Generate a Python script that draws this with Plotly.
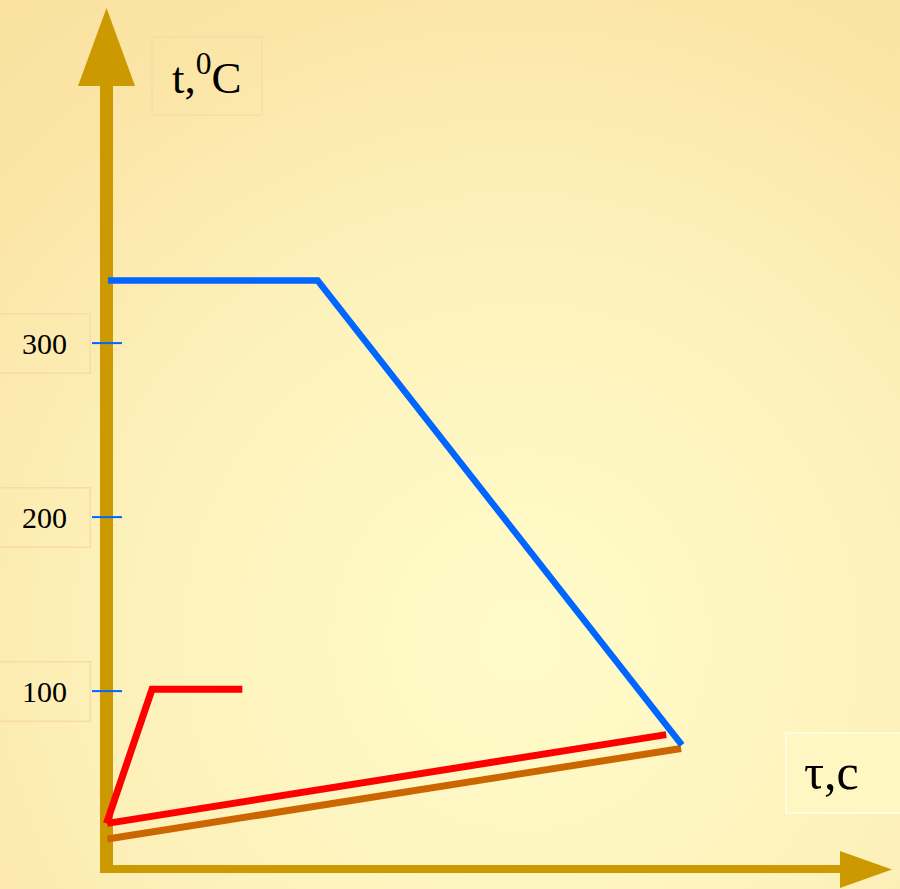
import plotly.graph_objects as go

# ---- data (τ in arbitrary seconds, t in °C) ----
blue_tau = [0.2, 26.9, 73.3]
blue_t = [336, 336, 69]

red_rise_tau = [0.0, 5.8, 17.3]
red_rise_t = [24, 101, 101]

red_line_tau = [0.1, 71.3]
red_line_t = [24, 75]

brown_tau = [0.1, 73.2]
brown_t = [15, 67]

tick_vals = [100, 200, 300]
tick_text = ["100", "200", "300"]

y_label = "t,<sup>0</sup>C"
x_label = "τ,c"

# ---- scale helpers (pixel geometry of the reference) ----
W, H = 900, 889
PX_PER_TAU = 7.85
TAU0_PX = 106.5
PX_PER_T = 1.74
T0_PX = 865.1
x_range = [(0 - TAU0_PX) / PX_PER_TAU, (W - TAU0_PX) / PX_PER_TAU]
y_range = [(T0_PX - H) / PX_PER_T, (T0_PX - 0) / PX_PER_T]


def fx(px):
    return (px - TAU0_PX) / PX_PER_TAU


def fy(py):
    return (T0_PX - py) / PX_PER_T


GOLD = "#CC9900"
BLUE = "#0066FF"
RED = "#FF0000"
BROWN = "#CC6600"
BG = "#FCEBB0"
SERIF = "Liberation Serif, Times New Roman, serif"

fig = go.Figure()

# background wash (radial, lighter towards lower centre)
cx, cy, R = 520, 640, 900
fig.add_trace(go.Scatter(
    x=[fx(cx - R), fx(cx + R), fx(cx + R), fx(cx - R), fx(cx - R)],
    y=[fy(cy - R), fy(cy - R), fy(cy + R), fy(cy + R), fy(cy - R)],
    mode="lines", fill="toself", line=dict(width=0, color="rgba(0,0,0,0)"),
    fillgradient=dict(type="radial",
                      colorscale=[[0, "#FFFCCA"], [0.45, "#FDF1BA"], [0.75, "#FBE5A6"], [1, "#F9DF9C"]]),
    hoverinfo="skip"))

# axes (arrows)
ax_y0 = fy(869)
fig.add_trace(go.Scatter(x=[0, 0], y=[ax_y0, fy(84)], mode="lines",
                         line=dict(color=GOLD, width=13), hoverinfo="skip"))
fig.add_trace(go.Scatter(x=[fx(78), fx(135), 0, fx(78)], y=[fy(86), fy(86), fy(8), fy(86)],
                         mode="lines", fill="toself", fillcolor=GOLD,
                         line=dict(color=GOLD, width=0), hoverinfo="skip"))
fig.add_trace(go.Scatter(x=[fx(100), fx(842)], y=[ax_y0, ax_y0], mode="lines",
                         line=dict(color=GOLD, width=8), hoverinfo="skip"))
fig.add_trace(go.Scatter(x=[fx(840), fx(840), fx(892), fx(840)],
                         y=[fy(851), fy(888), fy(869.5), fy(851)],
                         mode="lines", fill="toself", fillcolor=GOLD,
                         line=dict(color=GOLD, width=0), hoverinfo="skip"))

# tick marks crossing the axis
tx, ty = [], []
for v in tick_vals:
    tx += [fx(92), fx(122), None]
    ty += [v, v, None]
fig.add_trace(go.Scatter(x=tx, y=ty, mode="lines", line=dict(color=BLUE, width=2),
                         hoverinfo="skip"))

# curves
fig.add_trace(go.Scatter(x=brown_tau, y=brown_t, mode="lines",
                         line=dict(color=BROWN, width=7)))
fig.add_trace(go.Scatter(x=red_line_tau, y=red_line_t, mode="lines",
                         line=dict(color=RED, width=7)))
fig.add_trace(go.Scatter(x=red_rise_tau, y=red_rise_t, mode="lines",
                         line=dict(color=RED, width=7)))
fig.add_trace(go.Scatter(x=blue_tau, y=blue_t, mode="lines",
                         line=dict(color=BLUE, width=6.5)))

shapes = [
    # faint text box around the y label
    dict(type="rect", xref="x", yref="y", x0=fx(152), x1=fx(262), y0=fy(37), y1=fy(115),
         line=dict(color="rgba(250,214,160,0.7)", width=1.5), fillcolor="rgba(0,0,0,0)", layer="above"),
    # lighter box behind the x label
    dict(type="rect", xref="x", yref="y", x0=fx(786), x1=fx(905), y0=fy(733), y1=fy(813),
         line=dict(color="rgba(255,252,222,0.95)", width=2), fillcolor="rgba(255,248,196,0.75)",
         layer="above"),
]

annotations = []
for v, txt in zip(tick_vals, tick_text):
    annotations.append(dict(x=fx(44), y=v, text=txt, showarrow=False, xref="x", yref="y",
                            font=dict(family=SERIF, size=30, color="black"),
                            width=90, height=58, bordercolor="rgba(250,214,160,0.8)",
                            borderwidth=1.5, borderpad=0, xanchor="center", yanchor="middle"))

annotations.append(dict(x=fx(207), y=fy(74), text=y_label, showarrow=False,
                        font=dict(family=SERIF, size=45, color="black"),
                        xanchor="center", yanchor="middle"))
annotations.append(dict(x=fx(831), y=fy(772), text=x_label, showarrow=False,
                        font=dict(family=SERIF, size=50, color="black"),
                        xanchor="center", yanchor="middle"))

fig.update_layout(
    width=W, height=H,
    margin=dict(l=0, r=0, t=0, b=0),
    paper_bgcolor=BG, plot_bgcolor="rgba(0,0,0,0)",
    showlegend=False,
    xaxis=dict(range=x_range, visible=False, fixedrange=True),
    yaxis=dict(range=y_range, visible=False, fixedrange=True),
    annotations=annotations,
    shapes=shapes,
)

fig.write_html("out.html", config={"displayModeBar": False},
               post_script="document.body.style.margin='0';document.body.style.overflow='hidden';")
